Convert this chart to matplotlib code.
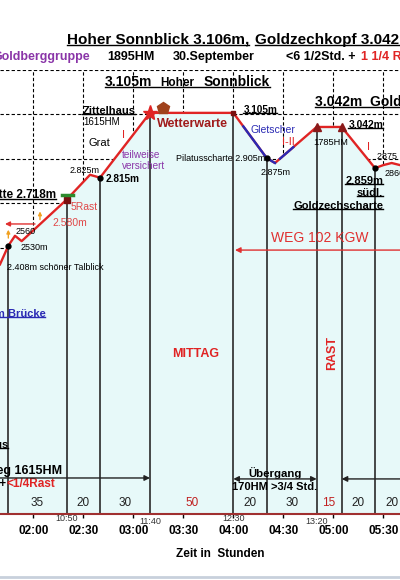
import numpy as np
import matplotlib
matplotlib.use("Agg")
import matplotlib.pyplot as plt
from matplotlib.lines import Line2D

plt.rcParams['font.family'] = ['Liberation Sans', 'DejaVu Sans']

# Höhenprofil: Gehzeit in Minuten, Höhe im Diagramm (m)
zeit_min = [100, 105, 109, 113, 140, 154, 160, 190, 240, 260, 265, 290, 305, 325, 330, 335, 340]
hoehe = [2310, 2408, 2460, 2432, 2650, 2780, 2765, 3105, 3105, 2868, 2842, 3031, 3031, 2815, 2831, 2842, 2831]

# Abschnitte (Minuten), Start bei 1:45
start_min = 105
dauer = [35, 20, 30, 50, 20, 30, 15, 20, 20]
ist_rast = [False, False, False, True, False, False, True, False, False]

# Uhrzeiten an den Abschnittsgrenzen
uhr_min = [140, 190, 240, 290]
uhr_text = ['10:50', '11:40', '12:30', '13:20']

tick_min = [120, 150, 180, 210, 240, 270, 300, 330]
tick_text = ['02:00', '02:30', '03:00', '03:30', '04:00', '04:30', '05:00', '05:30']

gletscher = [(246, 265), (268, 276)]

ROT = '#e02424'
DUNKELROT = '#a01c1c'
BLAU = '#2a2ab4'
LILA = '#8a35a8'

fig = plt.figure(figsize=(4, 5.8), dpi=100)
ax = fig.add_axes([0, 1 - 514 / 580, 1, 444 / 580])
ax.set_xlim(100, 340)
ax.set_ylim(1000, 3330)

# Raster hinter der Füllung
ax.set_axisbelow(True)
ax.set_yticks(np.linspace(1000, 3330, 11))
ax.set_xticks(tick_min)
ax.set_xticklabels(tick_text, fontweight='bold', fontsize=8.5)
ax.grid(True, color='black', ls=(0, (3, 2)), lw=0.8)
ax.tick_params(axis='y', left=False, labelleft=False)
ax.tick_params(axis='x', length=3, width=1, pad=5)
for s in ['top', 'left', 'right']:
    ax.spines[s].set_visible(False)
ax.spines['bottom'].set_color('#a03030')
ax.spines['bottom'].set_linewidth(1.5)

ax.fill_between(zeit_min, hoehe, 1000, color='#e7f9f9', lw=0, zorder=1)

grenzen = start_min + np.concatenate([[0], np.cumsum(dauer)])
ax.vlines(grenzen, 1000, np.interp(grenzen, zeit_min, hoehe), color='#2a2a2a', lw=1.2, zorder=2)

ax.plot(zeit_min, hoehe, color=ROT, lw=1.7, zorder=3)
for a, b in gletscher:
    tt = np.linspace(a, b, 20)
    ax.plot(tt, np.interp(tt, zeit_min, hoehe), color=BLAU, lw=1.7, zorder=3)

# Markierungen
def h_at(t):
    return np.interp(t, zeit_min, hoehe)

for t in [105, 160, 260, 325]:
    ax.plot(t, h_at(t), 'o', color='black', ms=3.5, zorder=4)
ax.plot(190, h_at(190), '*', color=ROT, ms=11, zorder=4)
ax.plot(240, h_at(240), 's', color='#7a1010', ms=3, zorder=4)
for t in [290, 305]:
    ax.plot(t, h_at(t), '^', color='#8b1a1a', ms=6, zorder=4)
# Hütte
ax.plot(140, h_at(140), 's', color='#7a1010', ms=5, zorder=4)
ax.plot([137, 143.5], [h_at(140) + 22, h_at(140) + 22], color='#2e8b2e', lw=2.5, zorder=4)
# Wetterwarte
ax.plot(198, h_at(198) + 28, 'p', color='#a0421c', ms=9, zorder=4)

# Dauer und Uhrzeiten
mitte = (grenzen[:-1] + grenzen[1:]) / 2
for m, d, r in zip(mitte, dauer, ist_rast):
    ax.text(m, 1058, str(d), ha='center', va='center', fontsize=8.5,
            color=('#c02020' if r else '#222222'))
for t, s, k in zip(uhr_min, uhr_text, range(4)):
    ax.text(t, -0.011 - 0.007 * (k % 2), s, transform=ax.get_xaxis_transform(),
            ha='center', va='center', fontsize=6.5, color='#333333')

fig.text(220 / 400, 1 - 554 / 580, 'Zeit in  Stunden', ha='center', va='center',
         fontsize=8.5, fontweight='bold')

unter = []

def ftxt(x, y, s, **kw):
    kw.setdefault('va', 'center')
    return fig.text(x / 400, 1 - y / 580, s, **kw)

# Kopfzeilen
unter.append([ftxt(67, 40, 'Hoher Sonnblick 3.106m,', fontsize=11, fontweight='bold')])
unter.append([ftxt(255, 40, 'Goldzechkopf 3.042m', fontsize=11, fontweight='bold')])
ftxt(90, 57, 'Goldberggruppe', ha='right', fontsize=9, fontweight='bold', color=LILA)
ftxt(107, 57, '1895HM', fontsize=9, fontweight='bold')
ftxt(173, 57, '30.September', fontsize=9, fontweight='bold')
ftxt(286, 57, '<6 1/2Std. +', fontsize=9, fontweight='bold')
ftxt(361, 57, '1 1/4 Rast', fontsize=9, fontweight='bold', color=ROT)

def atxt(t, h, s, **kw):
    kw.setdefault('va', 'center')
    kw.setdefault('zorder', 5)
    return ax.text(t, h, s, **kw)

unter.append([atxt(163, 3267, '3.105m', fontsize=10, fontweight='bold'),
              atxt(196.2, 3262, 'Hoher', fontsize=8.5, fontweight='bold'),
              atxt(222, 3267, 'Sonnblick', fontsize=10, fontweight='bold')])
unter.append([atxt(289, 3162, '3.042m  Goldzechkopf', fontsize=10, fontweight='bold')])

atxt(104.4, 2291, '2.408m schöner Talblick', fontsize=6.5)
atxt(112.2, 2396, '2530m', fontsize=6.5)
atxt(109.2, 2480, '2560', fontsize=6.5)
unter.append([atxt(133.8, 2674, 'Duisburger Hütte 2.718m', ha='right', fontsize=8.5, fontweight='bold')])
atxt(142.2, 2611, '5Rast', fontsize=7.5, color='#e04848')
atxt(131.4, 2527, '2.580m', fontsize=7.5, color='#e04848')
atxt(141.6, 2800, '2.825m', fontsize=6.5)
atxt(163.2, 2758, '2.815m', fontsize=7.2, fontweight='bold')
atxt(153, 2947, 'Grat', fontsize=8)
atxt(173.4, 2989, 'I', fontsize=8, color=ROT)
atxt(173.4, 2857, 'teilweise\nversichert', fontsize=7.2, color=LILA, linespacing=1.1)
unter.append([atxt(149.4, 3115, 'Zittelhaus', fontsize=8, fontweight='bold')])
atxt(150, 3057, '1615HM', fontsize=7)
atxt(194.4, 3046, 'Wetterwarte', fontsize=9, fontweight='bold', color=DUNKELROT)
atxt(259.2, 2868, 'Pilatusscharte 2.905m', ha='right', fontsize=6.5)
atxt(250.2, 3015, 'Gletscher', fontsize=7.5, color=BLAU)
atxt(269.4, 2952, 'I-II', fontsize=8, color=ROT)
atxt(256.2, 2794, '2.875m', fontsize=6.5)
unter.append([atxt(246, 3120, '3.105m', fontsize=7.2, fontweight='bold')])
atxt(288, 2947, '1785HM', fontsize=6.7)
unter.append([atxt(309, 3041, '3.042m', fontsize=7.4, fontweight='bold')])
atxt(320.4, 2926, 'I', fontsize=8, color=ROT)
atxt(326.4, 2878, '2875 m', fontsize=6.5)
atxt(330.6, 2789, '2860m', fontsize=6.5)
unter.append([atxt(330, 2747, '2.859m', ha='right', fontsize=8, fontweight='bold')])
unter.append([atxt(330, 2684, 'südl.', ha='right', fontsize=8, fontweight='bold')])
unter.append([atxt(330, 2616, 'Goldzechscharte', ha='right', fontsize=8, fontweight='bold')])

atxt(217.2, 1840, 'MITTAG', ha='center', fontsize=9, fontweight='bold', color=ROT)
atxt(299.4, 1845, 'RAST', ha='center', rotation=90, fontsize=9, fontweight='bold', color=ROT)
unter.append([atxt(127.2, 2049, 'Kolm Brücke', ha='right', fontsize=8, fontweight='bold', color=BLAU)])
unter.append([atxt(105, 1362, 'Gasthaus', ha='right', fontsize=8, fontweight='bold')])

atxt(292, 2448, 'WEG 102 KGW', ha='center', fontsize=10, color='#e03030')
atxt(137, 1226, 'Aufstieg 1615HM', ha='right', fontsize=9, fontweight='bold')
atxt(103.8, 1157, 'Std.+', ha='right', fontsize=8.5, fontweight='bold')
atxt(103.8, 1157, '<1/4Rast', fontsize=8.5, fontweight='bold', color=ROT)
atxt(265, 1215, 'Übergang', ha='center', fontsize=8.2, fontweight='bold')
atxt(265, 1142, '170HM >3/4 Std.', ha='center', fontsize=8, fontweight='bold')

# Pfeile
def pfeil(x0, y0, x1, y1, farbe, stil='-|>', ms=8):
    ax.annotate('', xy=(x1, y1), xytext=(x0, y0), annotation_clip=False,
                arrowprops=dict(arrowstyle=stil, color=farbe, lw=1, mutation_scale=ms,
                                shrinkA=0, shrinkB=0), zorder=5)

pfeil(100, 1189, 190, 1189, '#222222')
pfeil(240, 1184, 290, 1184, '#222222', stil='<|-|>')
pfeil(345, 1184, 305, 1184, '#222222')
pfeil(345, 2385, 241, 2385, '#e03030')
pfeil(121, 2522, 103, 2522, '#e03030', ms=7)
pfeil(105, 2448, 105, 2492, '#f0a020', ms=5)
pfeil(124, 2545, 124, 2588, '#f0a020', ms=5)

# Unterstreichungen
fig.canvas.draw()
r = fig.canvas.get_renderer()
inv = fig.transFigure.inverted()
for grp in unter:
    bbs = [t.get_window_extent(r) for t in grp]
    x0 = min(b.x0 for b in bbs)
    x1 = max(b.x1 for b in bbs)
    y = min(b.y0 for b in bbs) + 2
    (fx0, fy), (fx1, _) = inv.transform([(x0, y), (x1, y)])
    fig.add_artist(Line2D([fx0, fx1], [fy, fy], color=grp[0].get_color(), lw=1))

fig.add_artist(Line2D([0, 1], [1 - 577 / 580] * 2, color='#c8d0dc', lw=2))

fig.savefig('out.png', dpi=100)
